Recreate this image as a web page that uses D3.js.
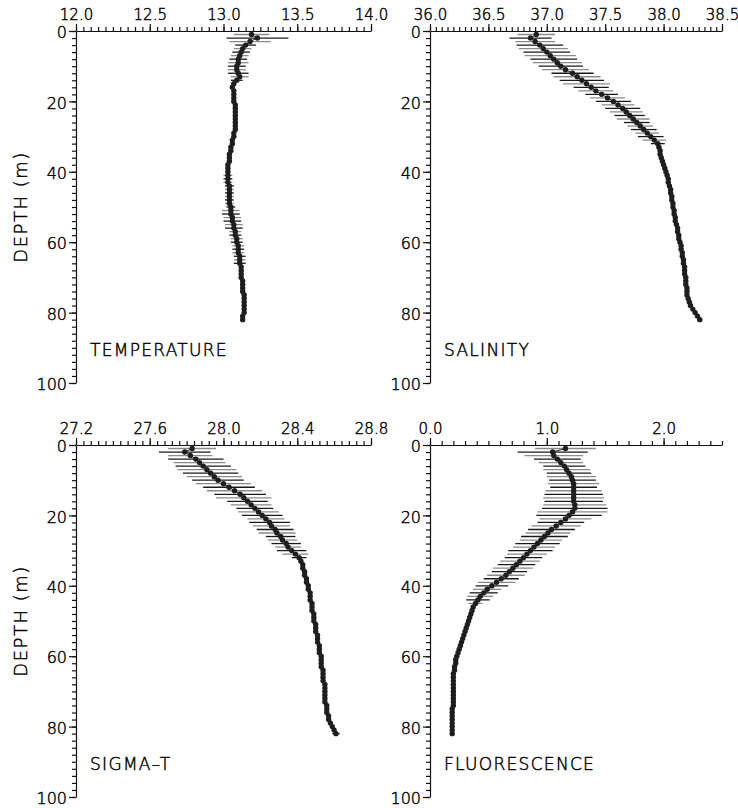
<!DOCTYPE html>
<meta charset="utf-8">
<head>
<style>
body { margin: 0; background: #fff; }
text { font-family: "DejaVu Sans", sans-serif; fill: #000; }
</style>
<script src="https://cdnjs.cloudflare.com/ajax/libs/d3/7.8.5/d3.min.js"></script>
</head>
<body>
<div id="vis"></div>
<script>
// depth of each bin (m)
var depth = [1,2,3,4,5,6,7,8,9,10,11,12,13,14,15,16,17,18,19,20,
  21,22,23,24,25,26,27,28,29,30,31,32,33,34,35,36,37,38,39,40,
  41,42,43,44,45,46,47,48,49,50,51,52,53,54,55,56,57,58,59,60,
  61,62,63,64,65,66,67,68,69,70,71,72,73,74,75,76,77,78,79,80,81,82]

var temperature = [13.19,13.23,13.18,13.15,13.13,13.12,13.11,13.10,13.10,13.09,
  13.09,13.10,13.11,13.09,13.07,13.06,13.07,13.07,13.07,13.07,
  13.08,13.08,13.08,13.08,13.08,13.08,13.08,13.08,13.07,13.07,
  13.06,13.06,13.05,13.05,13.04,13.04,13.04,13.03,13.03,13.03,
  13.03,13.03,13.03,13.04,13.04,13.04,13.04,13.04,13.04,13.05,
  13.05,13.05,13.06,13.06,13.07,13.07,13.08,13.08,13.09,13.09,
  13.10,13.10,13.10,13.11,13.11,13.11,13.12,13.12,13.12,13.12,
  13.13,13.13,13.13,13.13,13.14,13.14,13.14,13.14,13.14,13.14,13.13,13.13]
var temperatureErr = [0.12,0.21,0.14,0.07,0.06,0.06,0.06,0.06,0.07,0.06,
  0.06,0.07,0.06,0.04,0.015,0.015,0.015,0.015,0.015,0.015,
  0.015,0.015,0.015,0.015,0.015,0.015,0.015,0.015,0.015,0.015,
  0.015,0.015,0.015,0.015,0.015,0.015,0.015,0.015,0.015,0.015,
  0.03,0.03,0.03,0.03,0.03,0.03,0.03,0.03,0.03,0.03,
  0.06,0.06,0.06,0.06,0.06,0.06,0.04,0.04,0.04,0.04,
  0.04,0.04,0.04,0.04,0.04,0.04,0.015,0.015,0.015,0.015,
  0.015,0.015,0.015,0.015,0.015,0.015,0.015,0.015,0.015,0.015,0.015,0.015]

var salinity = [36.91,36.86,36.90,36.94,36.97,37.00,37.03,37.06,37.09,37.12,
  37.16,37.22,37.26,37.30,37.34,37.38,37.42,37.47,37.52,37.57,
  37.61,37.65,37.68,37.71,37.74,37.77,37.80,37.83,37.86,37.89,
  37.92,37.95,37.96,37.97,37.97,37.98,37.99,38.00,38.01,38.02,
  38.03,38.04,38.04,38.05,38.06,38.06,38.07,38.07,38.08,38.08,
  38.09,38.09,38.10,38.10,38.11,38.12,38.12,38.13,38.13,38.14,
  38.15,38.15,38.16,38.16,38.17,38.17,38.18,38.18,38.18,38.19,
  38.19,38.19,38.20,38.20,38.20,38.21,38.22,38.23,38.25,38.27,38.29,38.31]
var salinityErr = [0.16,0.18,0.17,0.2,0.21,0.2,0.22,0.2,0.21,0.19,
  0.2,0.18,0.2,0.19,0.2,0.15,0.15,0.14,0.15,0.15,
  0.14,0.15,0.14,0.13,0.14,0.11,0.11,0.11,0.10,0.11,
  0.10,0.06,0.01,0.01,0.01,0.01,0.01,0.01,0.01,0.01,
  0.01,0.01,0.01,0.01,0.01,0.01,0.01,0.01,0.01,0.01,
  0.01,0.01,0.01,0.01,0.01,0.01,0.01,0.01,0.01,0.01,
  0.01,0.01,0.01,0.01,0.01,0.01,0.01,0.01,0.01,0.01,
  0.01,0.01,0.01,0.01,0.01,0.01,0.01,0.01,0.01,0.01,0.01,0.02]

var sigmaT = [27.83,27.79,27.82,27.85,27.87,27.89,27.91,27.93,27.95,27.97,
  28.00,28.03,28.06,28.09,28.11,28.13,28.15,28.17,28.19,28.21,
  28.23,28.25,28.26,28.28,28.29,28.31,28.32,28.34,28.35,28.37,
  28.39,28.41,28.42,28.43,28.43,28.44,28.44,28.45,28.45,28.46,
  28.46,28.47,28.47,28.47,28.48,28.48,28.48,28.49,28.49,28.49,
  28.50,28.50,28.50,28.51,28.51,28.51,28.52,28.52,28.52,28.53,
  28.53,28.53,28.53,28.54,28.54,28.54,28.54,28.55,28.55,28.55,
  28.55,28.55,28.55,28.56,28.56,28.56,28.57,28.57,28.58,28.59,28.60,28.61]
var sigmaTErr = [0.13,0.14,0.12,0.15,0.14,0.15,0.16,0.15,0.15,0.14,
  0.15,0.14,0.15,0.14,0.15,0.11,0.11,0.1,0.11,0.11,
  0.1,0.11,0.1,0.1,0.1,0.08,0.08,0.08,0.07,0.08,
  0.07,0.04,0.008,0.008,0.008,0.008,0.008,0.008,0.008,0.008,
  0.008,0.008,0.008,0.008,0.008,0.008,0.008,0.008,0.008,0.008,
  0.008,0.008,0.008,0.008,0.008,0.008,0.008,0.008,0.008,0.008,
  0.008,0.008,0.008,0.008,0.008,0.008,0.008,0.008,0.008,0.008,
  0.008,0.008,0.008,0.008,0.008,0.008,0.008,0.008,0.008,0.01,0.01,0.02]

var fluorescence = [1.16,1.05,1.06,1.09,1.12,1.15,1.17,1.19,1.21,1.22,
  1.23,1.23,1.23,1.23,1.23,1.23,1.24,1.24,1.22,1.19,
  1.16,1.12,1.08,1.04,1.01,0.98,0.95,0.92,0.89,0.86,
  0.83,0.80,0.77,0.74,0.71,0.68,0.65,0.61,0.57,0.53,
  0.49,0.46,0.43,0.41,0.39,0.37,0.36,0.35,0.34,0.33,
  0.32,0.31,0.30,0.29,0.28,0.27,0.26,0.25,0.24,0.23,
  0.22,0.22,0.21,0.21,0.20,0.20,0.20,0.20,0.20,0.20,
  0.20,0.20,0.20,0.20,0.19,0.19,0.19,0.19,0.19,0.19,0.19,0.19]
var fluorescenceErr = [0.26,0.3,0.25,0.2,0.19,0.18,0.2,0.19,0.21,0.2,
  0.22,0.2,0.24,0.25,0.26,0.25,0.27,0.28,0.3,0.28,
  0.22,0.2,0.21,0.2,0.19,0.2,0.18,0.19,0.18,0.19,
  0.17,0.16,0.17,0.16,0.17,0.15,0.16,0.15,0.16,0.14,
  0.12,0.12,0.11,0.1,0.06,0.02,0.01,0.01,0.01,0.01,
  0.01,0.01,0.01,0.01,0.01,0.01,0.01,0.01,0.01,0.01,
  0.01,0.01,0.01,0.01,0.01,0.01,0.01,0.01,0.01,0.01,
  0.01,0.01,0.01,0.01,0.01,0.01,0.01,0.01,0.01,0.01,0.01,0.01]

// axis ranges and tick labels
var tempTicks = [12.0, 12.5, 13.0, 13.5, 14.0]
var salTicks = [36.0, 36.5, 37.0, 37.5, 38.0, 38.5]
var sigTicks = [27.2, 27.6, 28.0, 28.4, 28.8]
var fluTicks = [0.0, 1.0, 2.0]
var depthTicks = [0, 20, 40, 60, 80, 100]

var panels = [
  {name: 'TEMPERATURE', values: temperature, err: temperatureErr, domain: [12, 14], ticks: tempTicks, minor: 0.05, left: 76, right: 371, top: 31, bottom: 383},
  {name: 'SALINITY', values: salinity, err: salinityErr, domain: [36, 38.5], ticks: salTicks, minor: 0.05, left: 430, right: 722, top: 31, bottom: 383},
  {name: 'SIGMA\u2013T', values: sigmaT, err: sigmaTErr, domain: [27.2, 28.8], ticks: sigTicks, minor: 0.04, left: 76, right: 371, top: 445, bottom: 797},
  {name: 'FLUORESCENCE', values: fluorescence, err: fluorescenceErr, domain: [0, 2.5], ticks: fluTicks, minor: 0.1, left: 430, right: 722, top: 445, bottom: 797}
]

var svg = d3.select('#vis').append('svg')
  .attr('width', 738)
  .attr('height', 808)

svg.append('rect').attr('width', 738).attr('height', 808).attr('fill', '#fff')

// thin black lettering, close to the plotter font of the original
var thinText = function(sel) {
  sel.style('font-family', '"DejaVu Sans", sans-serif')
    .style('font-weight', 200)
    .attr('fill', '#000')
    .attr('stroke', '#000')
    .attr('stroke-width', 0.45)
}

panels.forEach(function(p, pi) {
  var x = d3.scaleLinear().domain(p.domain).range([p.left, p.right])
  var y = d3.scaleLinear().domain([0, 100]).range([p.top, p.bottom])
  var g = svg.append('g')

  // minor ticks on top axis
  var nMinor = Math.round((p.domain[1] - p.domain[0]) / p.minor)
  var minorX = d3.range(nMinor + 1).map(function(i) { return p.domain[0] + i * p.minor })
  g.append('g')
    .attr('transform', 'translate(0,' + p.top + ')')
    .call(d3.axisTop(x).tickValues(minorX).tickSize(4).tickFormat(''))
    .call(function(a) { a.select('.domain').remove() })
  g.append('g')
    .attr('transform', 'translate(0,' + p.top + ')')
    .call(d3.axisTop(x).tickValues(p.ticks).tickSize(7).tickSizeOuter(0).tickPadding(4).tickFormat(d3.format('.1f')))
    .call(function(a) { a.selectAll('text').style('font-size', '15px') })

  // left depth axis
  var minorY = d3.range(0, 101, 2)
  g.append('g')
    .attr('transform', 'translate(' + p.left + ',0)')
    .call(d3.axisLeft(y).tickValues(minorY).tickSize(4).tickFormat(''))
    .call(function(a) { a.select('.domain').remove() })
  g.append('g')
    .attr('transform', 'translate(' + p.left + ',0)')
    .call(d3.axisLeft(y).tickValues(depthTicks).tickSize(7).tickSizeOuter(0).tickPadding(2))
    .call(function(a) { a.selectAll('text').style('font-size', '16px').attr('dy', '0.42em') })

  g.selectAll('.tick line, .domain').attr('stroke', '#111').attr('stroke-width', 1.2)
  g.selectAll('.tick text').call(thinText)

  if (pi % 2 == 0) {
    g.append('text')
      .attr('transform', 'translate(27,' + ((p.top + p.bottom) / 2) + ') rotate(-90)')
      .attr('text-anchor', 'middle')
      .style('font-size', '18px')
      .style('letter-spacing', '1.5px')
      .text('DEPTH  (m)')
      .call(thinText)
  }

  // error bars
  g.selectAll('line.err')
    .data(depth)
    .enter().append('line')
    .attr('class', 'err')
    .attr('x1', function(d, i) { return x(p.values[i] - p.err[i]) })
    .attr('x2', function(d, i) { return x(p.values[i] + p.err[i]) })
    .attr('y1', function(d) { return y(d) })
    .attr('y2', function(d) { return y(d) })
    .attr('stroke', function(d, i) { return i % 2 == 0 ? '#8a8a8a' : '#1a1a1a' })
    .attr('stroke-width', 1.3)

  // profile line and dots
  var line = d3.line()
    .x(function(d, i) { return x(p.values[i]) })
    .y(function(d) { return y(d) })
  g.append('path')
    .datum(depth)
    .attr('d', line)
    .attr('fill', 'none')
    .attr('stroke', '#222')
    .attr('stroke-width', 1)
  g.selectAll('circle')
    .data(depth)
    .enter().append('circle')
    .attr('cx', function(d, i) { return x(p.values[i]) })
    .attr('cy', function(d) { return y(d) })
    .attr('r', 2.7)
    .attr('fill', '#1e1e1e')

  g.append('text')
    .attr('x', p.left + 14)
    .attr('y', y(92.3))
    .style('font-size', '17px')
    .style('letter-spacing', '1.3px')
    .text(p.name)
    .call(thinText)
})
</script>
</body>
</html>
